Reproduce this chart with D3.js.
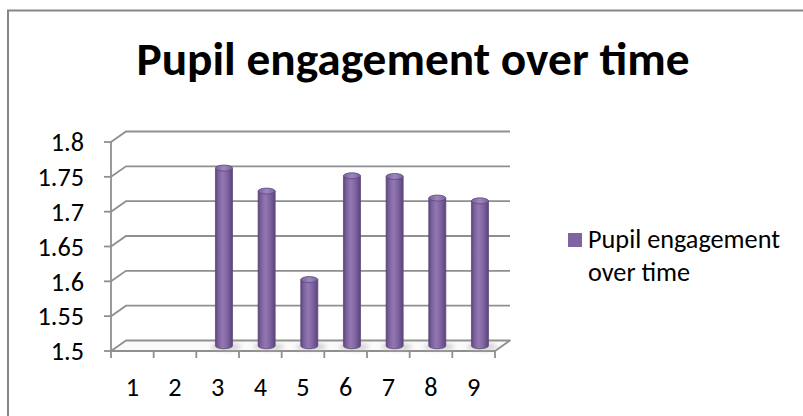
<!DOCTYPE html>
<html>
<head>
<meta charset="utf-8">
<script src="https://cdn.jsdelivr.net/npm/d3@7"></script>
<style>
  html, body { margin: 0; padding: 0; background: #fff; }
  svg { display: block; }
  text { font-family: Carlito, Calibri, Lato, "Liberation Sans", sans-serif; }
</style>
</head>
<body>
<svg id="chart" width="803" height="416"></svg>
<script>
// ---- data ----
const categories = ["1", "2", "3", "4", "5", "6", "7", "8", "9"];
const values = [null, null, 1.755, 1.722, 1.595, 1.744, 1.743, 1.712, 1.708];
const yTicks = [1.5, 1.55, 1.6, 1.65, 1.7, 1.75, 1.8];
const yTickLabels = ["1.5", "1.55", "1.6", "1.65", "1.7", "1.75", "1.8"];
const seriesName = "Pupil engagement over time";
const titleText = "Pupil engagement over time";

// ---- layout ----
const svg = d3.select("#chart");
const depthX = 15, depthY = -10.5;   // 3D depth offset of the back wall
const x = d3.scaleBand().domain(categories).range([111, 495]).paddingInner(0).paddingOuter(0);
const y = d3.scaleLinear().domain([1.5, 1.8]).range([351, 142]);
const gridColor = "#8f8f8f";
const purple = "#8064a2";

function fit(sel, target) {
  const fs = +sel.attr("font-size");
  const w = sel.node().getComputedTextLength();
  sel.attr("font-size", (fs * target / w).toFixed(2));
  return +sel.attr("font-size");
}

// outer frame
svg.append("rect").attr("x", 8).attr("y", 10.5).attr("width", 803).attr("height", 420)
  .attr("fill", "#fff").attr("stroke", "#868686").attr("stroke-width", 2);

// defs
const defs = svg.append("defs");
const grad = defs.append("linearGradient").attr("id", "cyl").attr("x1", 0).attr("x2", 1).attr("y1", 0).attr("y2", 0);
[[0, "#5a4577"], [0.15, "#7a5e9c"], [0.42, "#9279b3"], [0.7, "#7f63a1"], [1, "#5a4577"]]
  .forEach(([o, c]) => grad.append("stop").attr("offset", o).attr("stop-color", c));
const capGrad = defs.append("linearGradient").attr("id", "cap").attr("x1", 0).attr("x2", 1).attr("y1", 0).attr("y2", 0);
[[0, "#7a62a0"], [0.5, "#9c86bd"], [1, "#7a62a0"]]
  .forEach(([o, c]) => capGrad.append("stop").attr("offset", o).attr("stop-color", c));
const blur = defs.append("filter").attr("id", "soft").attr("x", "-50%").attr("y", "-50%").attr("width", "200%").attr("height", "200%");
blur.append("feGaussianBlur").attr("stdDeviation", 2.2);
const lineBlur = defs.append("filter").attr("id", "lb");
lineBlur.append("feGaussianBlur").attr("stdDeviation", 0.35);

const x0 = x.range()[0], x1 = x.range()[1];

// floor
const yb = y(1.5);
svg.append("path")
  .attr("d", `M${x0},${yb} L${x1},${yb} L${x1 + depthX},${yb + depthY} L${x0 + depthX},${yb + depthY} Z`)
  .attr("fill", "#fafafa").attr("stroke", gridColor).attr("stroke-width", 1.8)
  .attr("stroke-linejoin", "round").attr("filter", "url(#lb)");

// back-wall gridlines with left-wall diagonals
const grid = svg.append("g").attr("filter", "url(#lb)");
yTicks.filter(t => t > 1.5).forEach(t => {
  const yy = y(t);
  grid.append("path")
    .attr("d", `M${x0},${yy} L${x0 + depthX},${yy + depthY} L${x1 + depthX},${yy + depthY}`)
    .attr("fill", "none").attr("stroke", gridColor).attr("stroke-width", 1.8);
});

// vertical axis line + ticks
grid.append("line").attr("x1", x0).attr("x2", x0).attr("y1", y(1.8)).attr("y2", y(1.5))
  .attr("stroke", gridColor).attr("stroke-width", 1.8);
yTicks.forEach(t => {
  grid.append("line").attr("x1", x0 - 7).attr("x2", x0).attr("y1", y(t)).attr("y2", y(t))
    .attr("stroke", gridColor).attr("stroke-width", 1.8);
});
// x ticks at band boundaries
const bounds = categories.map(c => x(c)).concat([x1]);
bounds.forEach(b => {
  grid.append("line").attr("x1", b).attr("x2", b).attr("y1", yb).attr("y2", yb + 7)
    .attr("stroke", gridColor).attr("stroke-width", 1.8);
});

// legend (measured first; tick labels share its size)
const lg = svg.append("g");
lg.append("rect").attr("x", 568).attr("y", 233).attr("width", 14).attr("height", 14).attr("fill", purple);
const words = seriesName.split(" ");
const line1 = words.slice(0, 2).join(" "), line2 = words.slice(2).join(" ");
const l1 = lg.append("text").attr("x", 588).attr("y", 248).attr("font-size", 22).attr("fill", "#000").text(line1);
const fsL = fit(l1, 192);
lg.append("text").attr("x", 588).attr("y", 281).attr("font-size", fsL).attr("fill", "#000").text(line2);

const tickFont = fsL;

// y tick labels
svg.append("g").selectAll("text").data(yTicks).join("text")
  .attr("x", 84).attr("y", d => y(d)).attr("dy", "0.35em")
  .attr("text-anchor", "end").attr("font-size", tickFont).attr("fill", "#000")
  .text((d, i) => yTickLabels[i]);

// x labels
svg.append("g").selectAll("text").data(categories).join("text")
  .attr("x", d => x(d) + x.bandwidth() / 2).attr("y", 387).attr("dy", "0.35em")
  .attr("text-anchor", "middle").attr("font-size", tickFont).attr("fill", "#000")
  .text(d => d);

// bars (cylinders) at mid-depth
const barW = 17, ry = 3;
const bars = svg.append("g");
categories.forEach((c, i) => {
  const v = values[i];
  if (v == null) return;
  const cx = x(c) + x.bandwidth() / 2 + depthX * 0.42;
  const ybase = y(1.5) + depthY * 0.5;
  const ytop = y(v) + depthY * 0.5;
  bars.append("ellipse").attr("cx", cx + 2).attr("cy", ybase + 1).attr("rx", barW * 0.9).attr("ry", 4)
    .attr("fill", "#b5b5b5").attr("opacity", 0.55).attr("filter", "url(#soft)");
  bars.append("path")
    .attr("d", `M${cx - barW / 2},${ytop} L${cx - barW / 2},${ybase} A${barW / 2},${ry} 0 0 0 ${cx + barW / 2},${ybase} L${cx + barW / 2},${ytop} Z`)
    .attr("fill", "url(#cyl)").attr("stroke", "#5b4778").attr("stroke-width", 0.8);
  bars.append("ellipse").attr("cx", cx).attr("cy", ytop).attr("rx", barW / 2).attr("ry", ry)
    .attr("fill", "url(#cap)").attr("stroke", "#5b4778").attr("stroke-width", 0.8);
});

// title
const title = svg.append("text").attr("x", 413).attr("y", 75)
  .attr("text-anchor", "middle").attr("font-weight", "bold").attr("font-size", 40).attr("fill", "#000")
  .text(titleText);
fit(title, 553);
</script>
</body>
</html>
